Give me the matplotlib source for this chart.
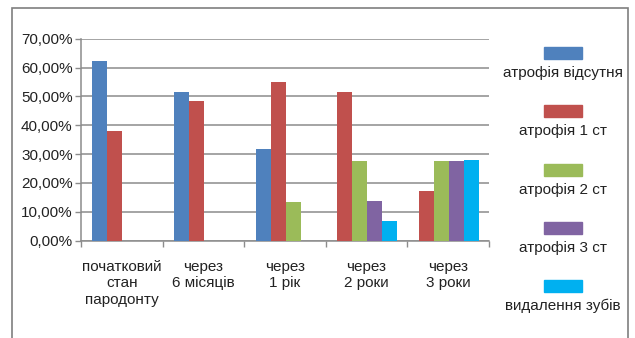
import matplotlib
matplotlib.use("Agg")
import matplotlib.pyplot as plt
from matplotlib.patches import Rectangle
from matplotlib.ticker import FuncFormatter, FixedLocator

plt.rcParams['font.family'] = ['Liberation Sans', 'DejaVu Sans']

categories = ["початковий\nстан\nпародонту", "через\n6 місяців", "через\n1 рік",
              "через\n2 роки", "через\n3 роки"]
series_names = ["атрофія відсутня", "атрофія 1 ст", "атрофія 2 ст",
                "атрофія 3 ст", "видалення зубів"]
colors = ["#4F81BD", "#C0504D", "#9BBB59", "#8064A2", "#00B0F0"]

# values in %, 0 = no bar in that group
absent = [62.1, 51.7, 31.7, 0, 0]
stage1 = [37.9, 48.3, 55.0, 51.7, 17.2]
stage2 = [0, 0, 13.3, 27.6, 27.6]
stage3 = [0, 0, 0, 13.8, 27.6]
removed = [0, 0, 0, 6.9, 27.9]
series = [absent, stage1, stage2, stage3, removed]

fig = plt.figure(figsize=(6.35, 3.38), dpi=100)
W, H = 635, 338
ax = fig.add_axes([81 / W, 1 - 240.7 / H, (489 - 81) / W, (240.7 - 38.7) / H])

bw = 0.184
start = -0.36
for gi in range(len(categories)):
    slot = 0
    for si, vals in enumerate(series):
        v = vals[gi]
        if v <= 0:
            continue
        ax.bar(gi + start + slot * bw + bw / 2, v, width=bw, color=colors[si],
               linewidth=0, zorder=3)
        slot += 1

ax.set_xlim(-0.5, len(categories) - 0.5)
ax.set_ylim(0, 70)
ax.set_yticks(range(0, 71, 10))
ax.yaxis.set_major_formatter(FuncFormatter(lambda v, p: f"{v:.2f}".replace('.', ',') + '%'))
ax.grid(axis='y', color='#8c8c8c', linewidth=1.1, zorder=0)

ax.xaxis.set_major_locator(FixedLocator([i - 0.5 for i in range(len(categories) + 1)]))
ax.xaxis.set_major_formatter(FuncFormatter(lambda v, p: ''))
ax.set_xticks(range(len(categories)), minor=True)
ax.set_xticklabels(categories, minor=True, fontsize=11, color='#222222', linespacing=1.2)
ax.tick_params(axis='x', which='minor', length=0, pad=14)
ax.tick_params(axis='x', which='major', length=4, color='#8c8c8c', width=1)
ax.tick_params(axis='y', length=4, color='#8c8c8c', width=1, labelsize=11,
               labelcolor='#222222', pad=2)

for s in ['top', 'right']:
    ax.spines[s].set_visible(False)
for s in ['left', 'bottom']:
    ax.spines[s].set_color('#8c8c8c')
    ax.spines[s].set_linewidth(1.1)

# legend with text under each colour patch
for i, (name, c) in enumerate(zip(series_names, colors)):
    py = 47 + i * 58.3
    fig.patches.append(Rectangle(((563 - 19) / W, 1 - (py + 12) / H), 38 / W, 12 / H,
                                 transform=fig.transFigure, color=c))
    fig.text(563 / W, 1 - (py + 26) / H, name, ha='center', va='center',
             fontsize=11, color='#222222')

# outer chart border
fig.patches.append(Rectangle((12 / W, -0.05), (628 - 12) / W, 1 - 8 / H + 0.05,
                             transform=fig.transFigure, fill=False,
                             edgecolor='#7f7f7f', linewidth=1.2))

fig.savefig("out.png", dpi=100)
